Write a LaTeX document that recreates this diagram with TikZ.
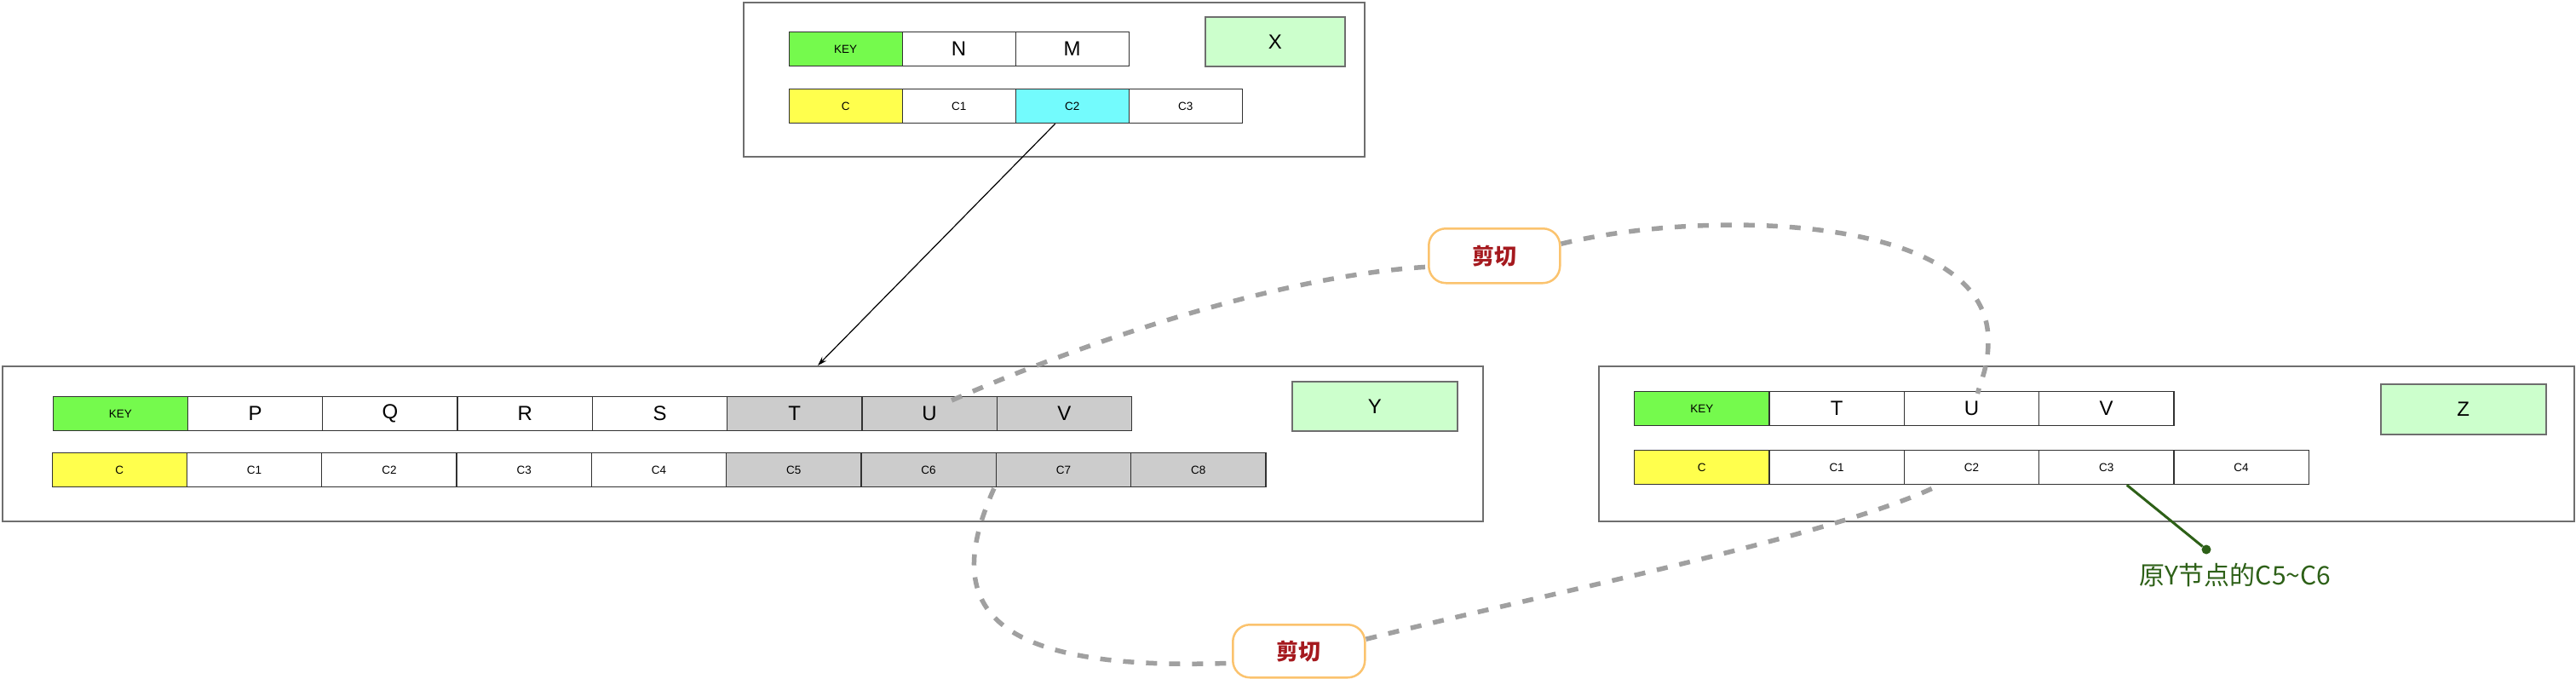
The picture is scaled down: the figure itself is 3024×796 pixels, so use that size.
\documentclass[tikz,border=0pt]{standalone}
\usepackage{fontspec}
\setmainfont{Liberation Sans}
\newfontfamily\cjk{Noto Sans CJK SC}
\usetikzlibrary{arrows.meta,calc}
\definecolor{keygreen}{RGB}{117,250,77}
\definecolor{cyellow}{RGB}{255,255,77}
\definecolor{ccyan}{RGB}{115,251,253}
\definecolor{cgray}{RGB}{204,204,204}
\definecolor{namefill}{RGB}{204,255,204}
\definecolor{framegray}{RGB}{110,110,110}
\definecolor{cellline}{RGB}{50,50,50}
\definecolor{cutgray}{RGB}{160,160,160}
\definecolor{lorange}{RGB}{251,195,110}
\definecolor{cutred}{RGB}{165,25,30}
\definecolor{ngreen}{RGB}{45,96,23}
\tikzset{
  frame/.style={draw=framegray, line width=2pt, fill=white, inner sep=0, anchor=north west},
  cell/.style={draw=cellline, line width=1.3pt, minimum height=40pt, inner sep=0, anchor=north west},
  sm/.style={font=\fontsize{13.5}{16}\selectfont},
  bg/.style={font=\fontsize{24}{28}\selectfont},
  namebox/.style={draw=framegray, line width=1.5pt, fill=namefill, inner sep=0, anchor=north west, font=\fontsize{24}{28}\selectfont},
  cutbox/.style={draw=lorange, line width=2.5pt, fill=white, rounded corners=20pt, inner sep=0, anchor=north west, text=cutred, font=\cjk\bfseries\fontsize{26}{30}\selectfont},
  cut/.style={draw=cutgray, line width=5.5pt, dash pattern=on 13pt off 14pt},
  arr/.style={draw=black, line width=1.2pt, -{Stealth[length=11pt,width=7pt]}},
  gline/.style={draw=ngreen, line width=3pt}
}
\begin{document}
\begin{tikzpicture}[x=1pt,y=-1pt]
\useasboundingbox (0,0) rectangle (3024,796);
% ---------- frames ----------
\node[frame, minimum width=729pt, minimum height=181pt] (xf) at (872,2) {};
\node[frame, minimum width=1738pt, minimum height=182pt] (yf) at (2,429) {};
\node[frame, minimum width=1145pt, minimum height=182pt] (zf) at (1876,429) {};
% ---------- X ----------
\node[cell, sm, minimum width=133pt, fill=keygreen] (xa0) at (925.5,37) {KEY};
\foreach \t [count=\i] in {N,M}
  \node[cell, bg, minimum width=133pt, fill=white] (xa\i) at ({925.5+133*\i},37) {\t};
\foreach \t/\f [count=\i from 0] in {C/cyellow,C1/white,C2/ccyan,C3/white}
  \node[cell, sm, minimum width=133pt, fill=\f] (xb\i) at ({925.5+133*\i},104) {\t};
\node[namebox, minimum width=164pt, minimum height=58pt] (xn) at (1414,19) {X};
% ---------- Y ----------
\node[cell, sm, minimum width=158.3pt, fill=keygreen] (ya0) at (61.5,465) {KEY};
\foreach \t/\f [count=\i] in {P/white,Q/white,R/white,S/white,T/cgray,U/cgray,V/cgray}
  \node[cell, bg, minimum width=158.3pt, fill=\f] (ya\i) at ({61.5+158.3*\i},465) {\t};
\foreach \t/\f [count=\i from 0] in {C/cyellow,C1/white,C2/white,C3/white,C4/white,C5/cgray,C6/cgray,C7/cgray,C8/cgray}
  \node[cell, sm, minimum width=158.3pt, fill=\f] (yb\i) at ({60.5+158.3*\i},531) {\t};
\node[namebox, minimum width=194pt, minimum height=58pt] (yn) at (1516,447) {Y};
% ---------- Z ----------
\node[cell, sm, minimum width=158.3pt, fill=keygreen] (za0) at (1918,459) {KEY};
\foreach \t [count=\i] in {T,U,V}
  \node[cell, bg, minimum width=158.3pt, fill=white] (za\i) at ({1918+158.3*\i},459) {\t};
\foreach \t/\f [count=\i from 0] in {C/cyellow,C1/white,C2/white,C3/white,C4/white}
  \node[cell, sm, minimum width=158.3pt, fill=\f] (zb\i) at ({1918+158.3*\i},528) {\t};
\node[namebox, minimum width=194pt, minimum height=59pt] (zn) at (2794,450) {Z};
% ---------- cut labels ----------
\node[cutbox, minimum width=154pt, minimum height=64pt] (lab1) at (1676,267) {剪切};
\node[cutbox, minimum width=155pt, minimum height=62pt] (lab2) at (1446,732) {剪切};
% ---------- arrow X.C2 -> Y ----------
\draw[arr] ($(xb2.south)+(-20,0)$) -- ($(yf.north)+(88,0)$);
% ---------- dashed cut curves ----------
\draw[cut] ($(ya6.north)+(26,5)$) .. controls (1300,390) and (1520,322) .. ($(lab1.west)+(0,13)$);
\draw[cut] ($(lab1.east)+(0,-14)$) .. controls (2000,245) and (2335,250) .. (2334,400)
  .. controls (2334,430) and (2326,445) .. ($(za2.north)+(7,3)$);
\draw[cut] ($(yb6.south east)+(-3,1)$) .. controls (1110,700) and (1140,790) .. ($(lab2.west)+(0,14)$);
\draw[cut] ($(lab2.east)+(0,-14)$) .. controls (1800,700) and (2150,630) .. ($(zb2.south)+(-42,2)$);
% ---------- note ----------
\node[circle, fill=ngreen, inner sep=0, minimum size=11pt] (dot) at (2590,645) {};
\draw[gline] ($(zb3.south)+(24,0)$) -- (dot);
\node[anchor=base, inner sep=0, text=ngreen, font=\cjk\fontsize{30}{36}\selectfont] (note) at (2624,686) {原Y节点的C5\textasciitilde C6};
\end{tikzpicture}
\end{document}
